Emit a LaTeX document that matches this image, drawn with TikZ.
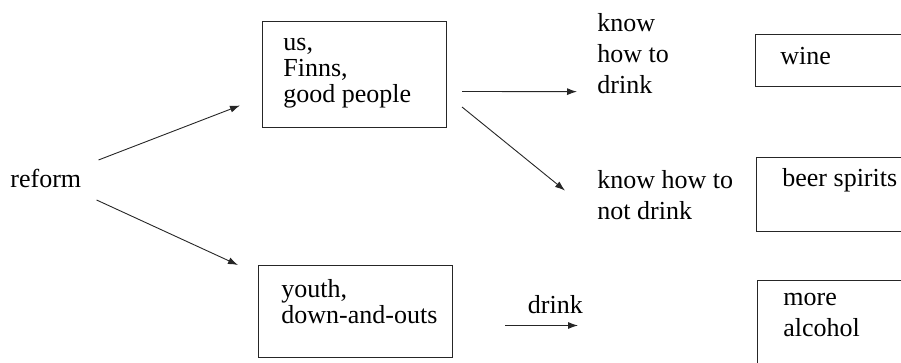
\documentclass[tikz,border=0pt]{standalone}
\usepackage{fontspec}
\setmainfont{Liberation Serif}
\usetikzlibrary{positioning, arrows.meta}

\begin{document}
\begin{tikzpicture}[
		x=0.5pt, y=-0.5pt,
		box/.style={rectangle, draw=black!85, line width=0.5pt, anchor=north west, inner sep=0pt},
		txt/.style={align=left, inner sep=0pt, anchor=base west, font=\fontsize{13}{13}\selectfont},
		lbl/.style={align=left, inner sep=0pt, anchor=base west, font=\fontsize{13}{15.5}\selectfont},
		arrow/.style={-{Latex[length=5pt, width=3.5pt]}, line width=0.45pt, draw=black!85}
	]
		\useasboundingbox (0,0) rectangle (901,363);
		\clip (0,0) rectangle (901,363);
		
		% base anchor = baseline of the last line
		\node[txt] (reform) at (10,188) {reform};
		
		\node[box, minimum width=92pt, minimum height=53pt] (us) at (262,21) {};
		\node[txt] (usTxt) at (283,103) {us,\\Finns,\\good people};
		\node[box, minimum width=97pt, minimum height=46pt] (youth) at (258,265) {};
		\node[txt] (youthTxt) at (281,324) {youth,\\down-and-outs};
		
		\node[lbl] (know) at (597,94) {know\\how to\\drink};
		\node[lbl] (notdrink) at (597,220) {know how to\\not drink};
		
		\node[box, minimum width=85pt, minimum height=26pt] (wine) at (755,34) {};
		\node[txt] (wineTxt) at (780,65) {wine};
		\node[box, minimum width=85pt, minimum height=37pt] (beer) at (756,157) {};
		\node[txt] (beerTxt) at (782,187) {beer spirits};
		\node[box, minimum width=85pt, minimum height=50pt] (more) at (757,280) {};
		\node[lbl] (moreTxt) at (783,337) {more\\alcohol};
		
		\draw[arrow] ([shift={(17,-19)}]reform.east) -- ([shift={(-22,31)}]us.west);
		\draw[arrow] ([shift={(15,21)}]reform.east) -- ([shift={(-20,0)}]youth.north west);
		\draw[arrow] ([shift={(15,17)}]us.east) -- ([shift={(-20,-3)}]know.south west);
		\draw[arrow] ([shift={(15,-21)}]us.south east) -- ([shift={(-32,20)}]notdrink.north west);
		\draw[arrow] ([shift={(52,14)}]youth.east) -- node[txt, pos=0.69, anchor=base, yshift=6pt] (drink) {drink} ([shift={(-179,-5)}]more.west);
	\end{tikzpicture}
\end{document}
